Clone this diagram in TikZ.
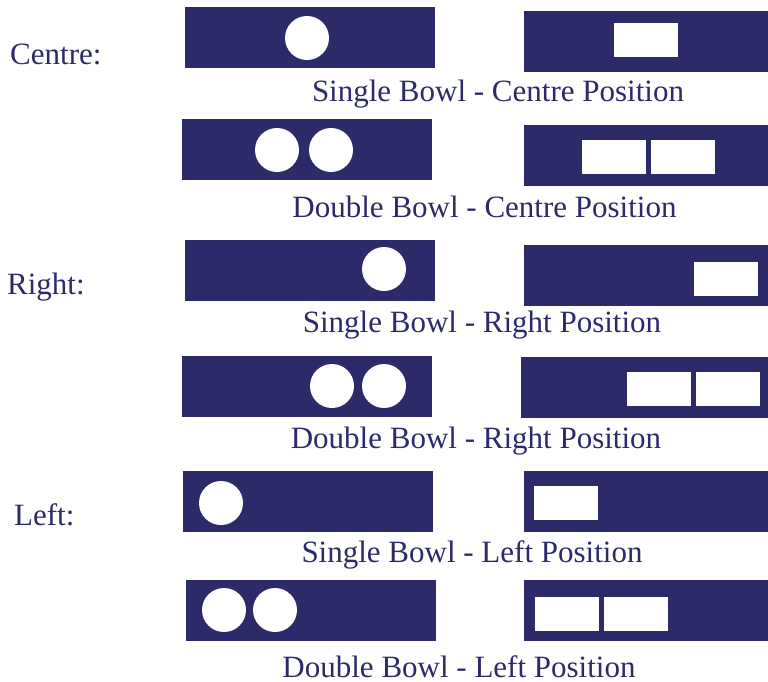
\documentclass[tikz,border=0pt]{standalone}
\usepackage{fontspec}
\setmainfont{Liberation Serif}
\definecolor{navy}{RGB}{45,42,106}

\begin{document}
\begin{tikzpicture}[x=1pt, y=-1pt,
   bar/.style={rectangle, fill=navy, inner sep=0pt, minimum width=250pt, minimum height=61pt},
   rbar/.style={bar, minimum width=244pt},
   bowl/.style={circle, fill=white, inner sep=0pt, minimum size=44pt},
   sink/.style={rectangle, fill=white, inner sep=0pt, minimum width=64pt, minimum height=34pt},
   caption/.style={anchor=base, inner sep=0pt, text=navy, font=\fontsize{31}{36}\selectfont},
   lbl/.style={anchor=base west, inner sep=0pt, text=navy, font=\fontsize{31}{36}\selectfont}]
  \useasboundingbox (0,0) rectangle (768,681);
  % side labels
  \node[lbl] (centre) at (10,64)  {Centre:};
  \node[lbl] (right)  at (7,294)  {Right:};
  \node[lbl] (left)   at (14,525) {Left:};
  % single bowl - centre
  \node[bar]  (l1) at (310,37.5) {};  \node[bowl] (l1a) at (307,38) {};
  \node[rbar] (r1) at (646,41.5) {};  \node[sink] (r1a) at (646,40) {};
  \node[caption]  (c1) at (498,101) {Single Bowl - Centre Position};
  % double bowl - centre
  \node[bar]  (l2) at (307,149.5) {};
  \node[bowl] (l2a) at (277,150) {};  \node[bowl] (l2b) at (331,150) {};
  \node[rbar] (r2) at (646,155.5) {};
  \node[sink] (r2a) at (613.5,156.5) {}; \node[sink] (r2b) at (683,156.5) {};
  \node[caption]  (c2) at (484.5,217) {Double Bowl - Centre Position};
  % single bowl - right
  \node[bar]  (l3) at (310,270.5) {}; \node[bowl] (l3a) at (384,269) {};
  \node[rbar] (r3) at (646,275.5) {}; \node[sink] (r3a) at (726,279) {};
  \node[caption]  (c3) at (482,332) {Single Bowl - Right Position};
  % double bowl - right
  \node[bar]  (l4) at (307,386.5) {};
  \node[bowl] (l4a) at (332,386) {};  \node[bowl] (l4b) at (384,386) {};
  \node[rbar, minimum width=247pt] (r4) at (644.5,387.5) {};
  \node[sink] (r4a) at (659,389) {};  \node[sink] (r4b) at (728,389) {};
  \node[caption]  (c4) at (476,448) {Double Bowl - Right Position};
  % single bowl - left
  \node[bar]  (l5) at (308,501.5) {}; \node[bowl] (l5a) at (221,503) {};
  \node[rbar] (r5) at (646,501.5) {}; \node[sink] (r5a) at (566,502.5) {};
  \node[caption]  (c5) at (472,562) {Single Bowl - Left Position};
  % double bowl - left
  \node[bar]  (l6) at (311,610.5) {};
  \node[bowl] (l6a) at (224,610) {};  \node[bowl] (l6b) at (275,610) {};
  \node[rbar] (r6) at (646,610.5) {};
  \node[sink] (r6a) at (567,613.5) {}; \node[sink] (r6b) at (636,613.5) {};
  \node[caption, text depth=0pt]  (c6) at (459,677) {Double Bowl - Left Position};
\end{tikzpicture}
\end{document}
